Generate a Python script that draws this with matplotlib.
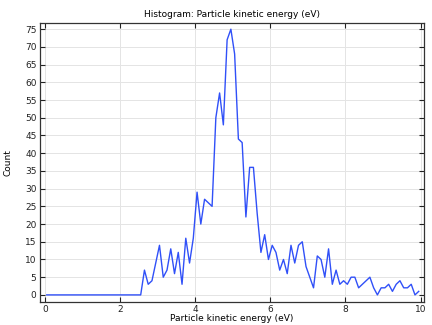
import matplotlib
matplotlib.use("Agg")
import matplotlib.pyplot as plt
import numpy as np

# bin centres (eV) and counts
energy = np.arange(100) * 0.1 + 0.05
counts = [0] * 26 + [
    7, 3, 4, 9, 14, 5, 7, 13, 6, 12, 3, 16, 9, 16,
    29, 20, 27, 26, 25, 50, 57, 48, 72, 75, 68, 44, 43, 22, 36, 36,
    23, 12, 17, 10, 14, 12, 7, 10, 6, 14, 9, 14, 15, 8,
    5, 2, 11, 10, 5, 13, 3, 7, 3, 4,
    3, 5, 5, 2, 3, 4, 5, 2, 0, 2,
    2, 3, 1, 3, 4, 2, 2, 3, 0, 1,
]

x_ticks = [0, 2, 4, 6, 8, 10]
y_ticks = list(range(0, 80, 5))

plt.rcParams['font.family'] = ['DejaVu Sans']

fig = plt.figure(figsize=(4.32, 3.25), dpi=100)
ax = fig.add_axes([0.0926, 0.0708, 0.888, 0.859])

ax.plot(energy, counts, color='#3050f8', linewidth=1.0)

ax.set_xlim(-0.13, 10.08)
ax.set_ylim(-2, 76.8)
ax.set_xticks(x_ticks)
ax.set_yticks(y_ticks)
ax.grid(True, color='#e4e4e4', linewidth=0.7)
ax.set_axisbelow(True)

ax.tick_params(direction='in', top=True, right=True, length=3.5, width=0.8,
               labelsize=6.5, colors='#222222', pad=2.5)
for s in ax.spines.values():
    s.set_color('#333333')
    s.set_linewidth(0.9)

ax.set_title('Histogram: Particle kinetic energy (eV)', fontsize=6.5, pad=4)
ax.set_xlabel('Particle kinetic energy (eV)', fontsize=6.5, labelpad=0)
ax.set_ylabel('Count', fontsize=6.5, labelpad=9)

fig.savefig('out.png', dpi=100)
